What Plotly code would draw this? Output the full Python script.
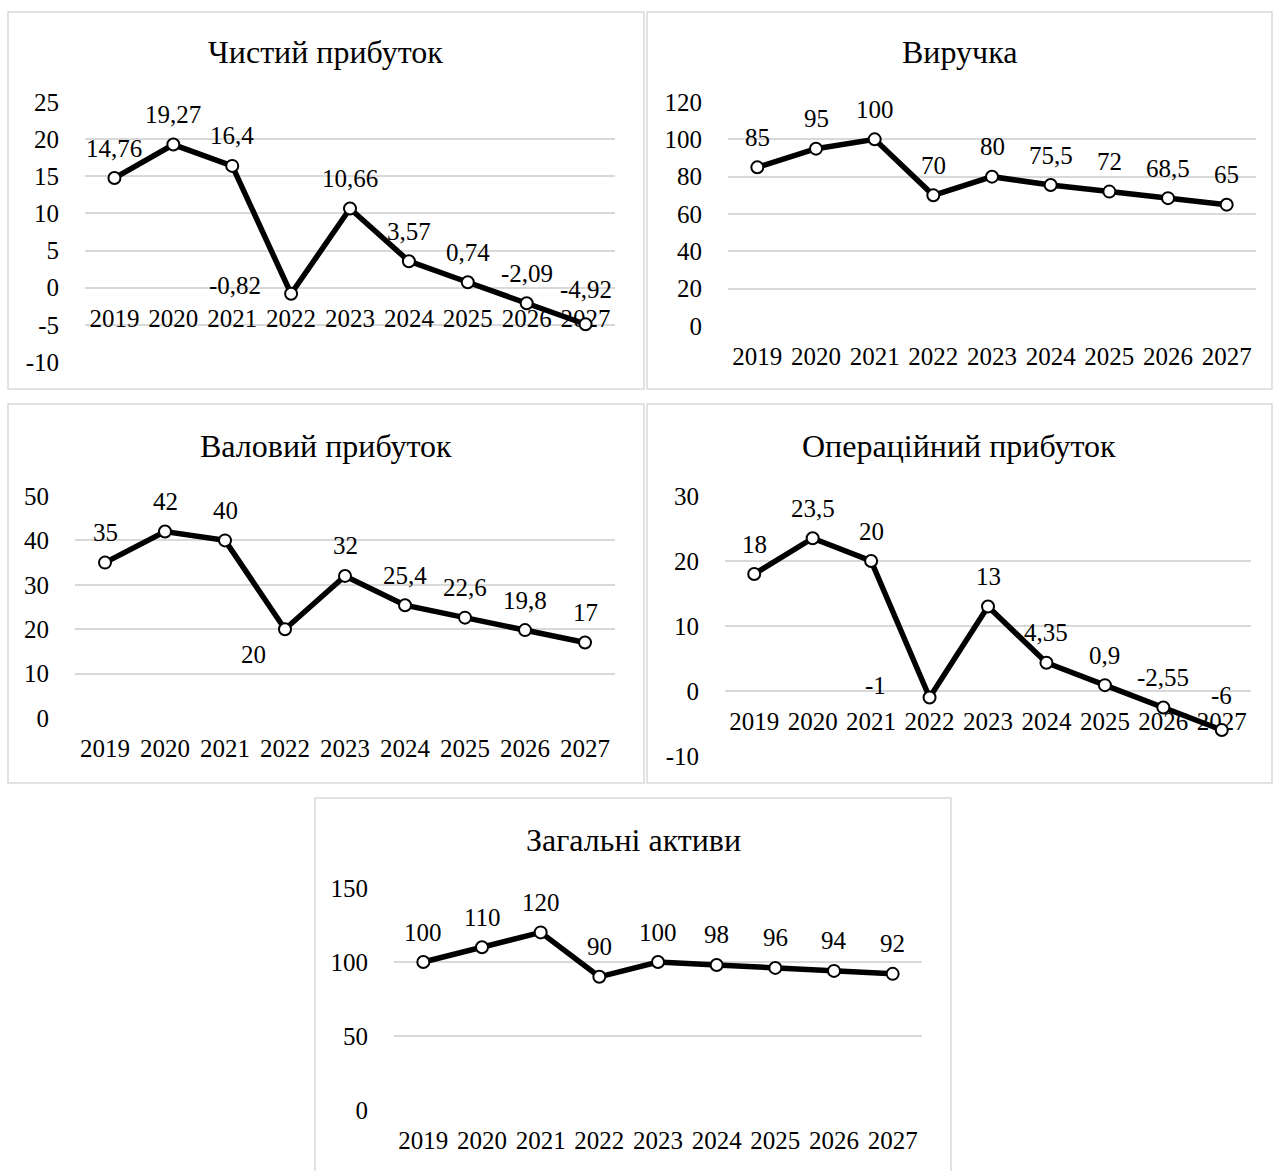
import plotly.graph_objects as go

W, H = 1273, 1171

years = ["2019", "2020", "2021", "2022", "2023", "2024", "2025", "2026", "2027"]

net_profit = [14.76, 19.27, 16.4, -0.82, 10.66, 3.57, 0.74, -2.09, -4.92]
revenue = [85, 95, 100, 70, 80, 75.5, 72, 68.5, 65]
gross_profit = [35, 42, 40, 20, 32, 25.4, 22.6, 19.8, 17]
operating_profit = [18, 23.5, 20, -1, 13, 4.35, 0.9, -2.55, -6]
total_assets = [100, 110, 120, 90, 100, 98, 96, 94, 92]

net_ticks = [-10, -5, 0, 5, 10, 15, 20, 25]
revenue_ticks = [0, 20, 40, 60, 80, 100, 120]
gross_ticks = [0, 10, 20, 30, 40, 50]
operating_ticks = [-10, 0, 10, 20, 30]
assets_ticks = [0, 50, 100, 150]

titles = ["Чистий прибуток", "Виручка", "Валовий прибуток",
          "Операційний прибуток", "Загальні активи"]

FONT = "Liberation Serif"
GRID = "#d9d9d9"
TICK_SIZE = 25
TITLE_SIZE = 32

# Pixel geometry of each chart: outer frame, plot area and title centre.
panels = [
    dict(values=net_profit, ticks=net_ticks, frame=(8, 12, 644, 389),
         area=(85, 615, 102, 362), title_y=52),
    dict(values=revenue, ticks=revenue_ticks, frame=(647, 12, 1272, 389),
         area=(728, 1256, 102, 326), title_y=52),
    dict(values=gross_profit, ticks=gross_ticks, frame=(8, 404, 644, 783),
         area=(75, 615, 496, 718), title_y=446),
    dict(values=operating_profit, ticks=operating_ticks, frame=(647, 404, 1272, 783),
         area=(725, 1251, 496, 756), title_y=446),
    dict(values=total_assets, ticks=assets_ticks, frame=(315, 798, 951, 1190),
         area=(394, 922, 888, 1110), title_y=840),
]

# Data labels sit above the point; a few are nudged aside or lifted
# clear of the year labels.
label_nudge = {(0, 3): (-56, 8), (2, 3): (-32, -25), (3, 3): (-54, 12),
               (0, 8): (0, 35), (3, 8): (0, 35)}

positions = list(range(len(years)))


def fx(px):
    return px / W


def fy(py):
    return 1 - py / H


def fmt(v):
    return f"{v:g}".replace(".", ",")


fig = go.Figure()
shapes = []
annotations = []

for i, p in enumerate(panels):
    n = "" if i == 0 else str(i + 1)
    xa, ya = "x" + n, "y" + n
    x0, x1, ytop, ybot = p["area"]
    ymin, ymax = p["ticks"][0], p["ticks"][-1]

    fig.add_trace(go.Scatter(
        x=positions, y=p["values"], xaxis=xa, yaxis=ya, mode="lines+markers",
        line=dict(color="black", width=5.5),
        marker=dict(size=12, color="white", line=dict(color="black", width=2)),
        cliponaxis=False, showlegend=False, hoverinfo="skip",
    ))

    # category labels follow the zero line when the range is below zero
    if ymin < 0:
        zero_px = ybot - (0 - ymin) / (ymax - ymin) * (ybot - ytop)
        xanchor = dict(anchor="free", position=fy(zero_px))
    else:
        xanchor = dict(anchor=ya)

    fig.layout["xaxis" + n] = dict(
        domain=[fx(x0), fx(x1)], range=[-0.5, len(years) - 0.5],
        tickvals=positions, ticktext=years,
        showgrid=False, zeroline=False, showline=False,
        ticks="outside", ticklen=8, tickcolor="rgba(0,0,0,0)",
        tickfont=dict(family=FONT, size=TICK_SIZE, color="black"),
        layer="below traces", fixedrange=True, automargin=False, **xanchor,
    )
    fig.layout["yaxis" + n] = dict(
        domain=[fy(ybot), fy(ytop)], anchor=xa, range=[ymin, ymax],
        tickvals=p["ticks"], ticktext=[str(t) for t in p["ticks"]],
        showgrid=True, gridcolor=GRID, gridwidth=1.5, zeroline=False,
        showline=False, ticks="outside", ticklen=20,
        tickcolor="rgba(0,0,0,0)",
        tickfont=dict(family=FONT, size=TICK_SIZE, color="black"),
        fixedrange=True, automargin=False,
    )

    fx0, fy0, fx1, fy1 = p["frame"]
    shapes.append(dict(type="rect", xref="paper", yref="paper",
                       x0=fx(fx0), x1=fx(fx1), y0=fy(fy1), y1=fy(fy0),
                       line=dict(color=GRID, width=1.5), layer="below"))

    annotations.append(dict(
        xref="paper", yref="paper", x=fx((fx0 + fx1) / 2), y=fy(p["title_y"]),
        text=titles[i], showarrow=False, xanchor="center", yanchor="middle",
        font=dict(family=FONT, size=TITLE_SIZE, color="black"),
    ))

    for j, v in enumerate(p["values"]):
        dx, dy = label_nudge.get((i, j), (0, 30))
        annotations.append(dict(
            xref=xa, yref=ya, x=positions[j], y=v, text=fmt(v), showarrow=False,
            xanchor="center", yanchor="middle", xshift=dx, yshift=dy,
            font=dict(family=FONT, size=TICK_SIZE, color="black"),
        ))

fig.update_layout(
    template="none",
    width=W, height=H, margin=dict(l=0, r=0, t=0, b=0, pad=0, autoexpand=False),
    font=dict(family=FONT, color="black"),
    paper_bgcolor="white", plot_bgcolor="white",
    shapes=shapes, annotations=annotations, showlegend=False,
)

fig.write_html("out.html", config={"displayModeBar": False})
